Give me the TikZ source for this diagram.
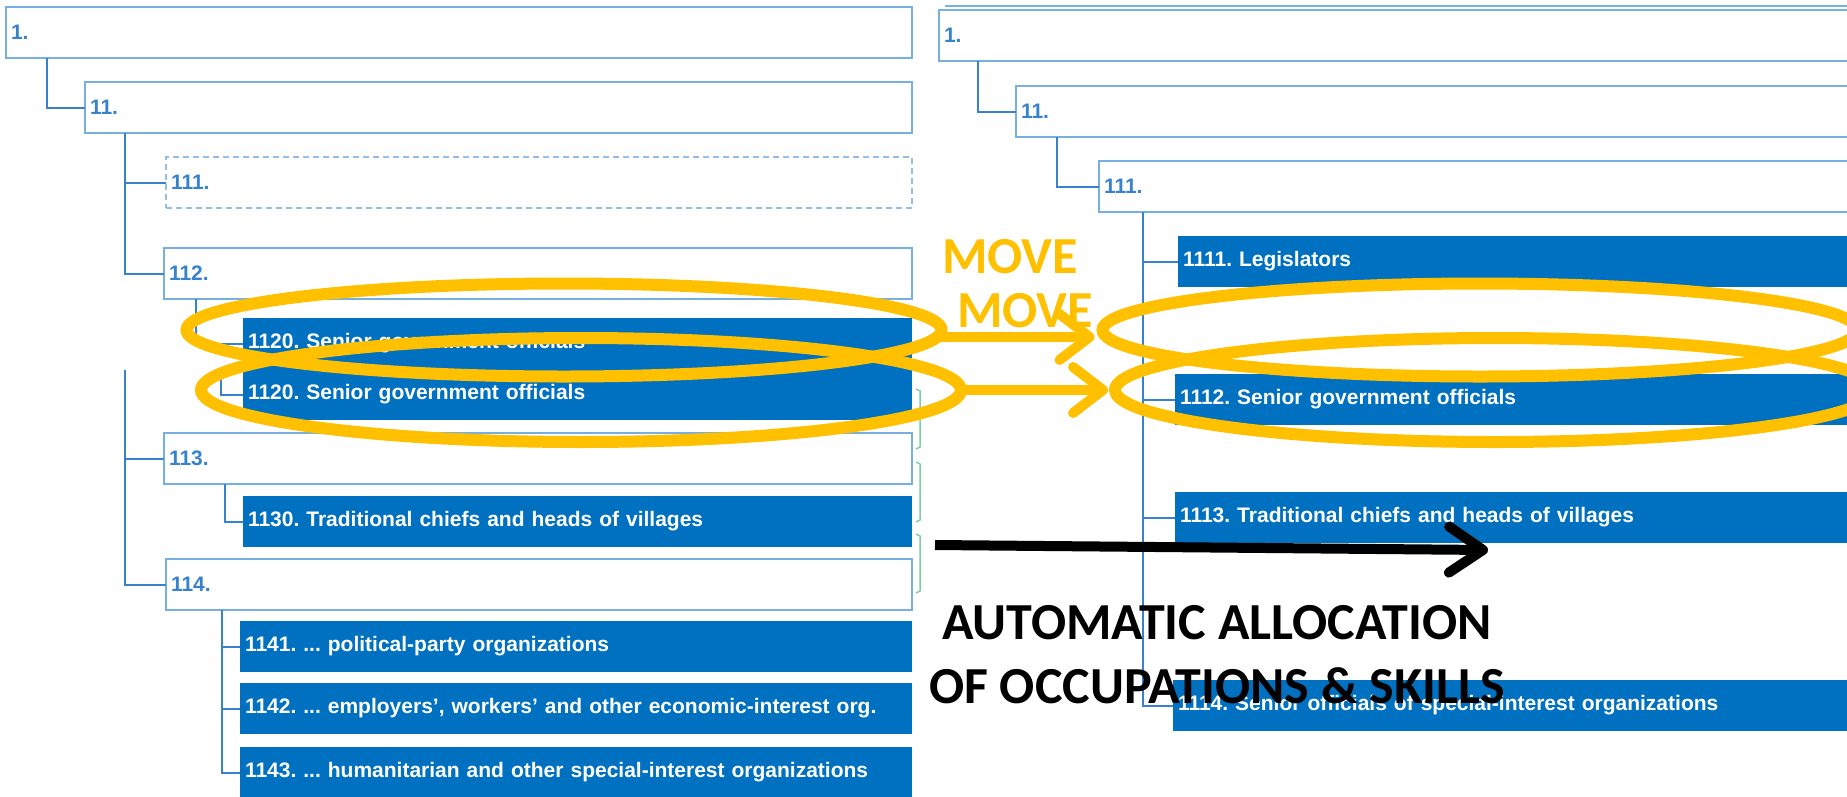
\documentclass[tikz,border=0pt]{standalone}
\usepackage{fontspec}
\setmainfont{Liberation Sans}
\newfontfamily\calib{Carlito}
\usetikzlibrary{shapes.geometric,arrows.meta,positioning}
\frenchspacing

\definecolor{iscoblue}{RGB}{0,112,192}
\definecolor{linkblue}{RGB}{55,130,205}
\definecolor{paleblue}{RGB}{120,175,225}
\definecolor{movegold}{RGB}{255,192,0}
\definecolor{brackgreen}{RGB}{120,210,160}

\begin{document}
\begin{tikzpicture}[x=1pt,y=-1pt,
    every node/.style={shape=rectangle,anchor=north west,inner sep=0pt,outer sep=0pt},
    grp/.style={draw=paleblue,line width=2.5pt,fill=white,text=linkblue,font=\fontsize{21}{24}\selectfont\bfseries,
        text width=#1,align=left,inner xsep=5pt,minimum height=51pt},
    occ/.style={fill=iscoblue,text=white,font=\fontsize{21}{24}\selectfont\bfseries,
        text width=#1,align=left,inner xsep=5pt,minimum height=51pt},
    link/.style={draw=linkblue,line width=2pt},
    ring/.style={ellipse,draw=movegold,line width=12pt,anchor=center},
    movearrow/.style={draw=movegold,line width=10pt,line cap=round,-{Straight Barb[length=30pt,width=46pt,round]}},
    autoarrow/.style={draw=black,line width=10pt,-{Straight Barb[length=34pt,width=46pt,round]}},
    movetext/.style={anchor=center,text=movegold,font=\calib\bfseries\fontsize{52}{60}\selectfont},
]
    \path[use as bounding box,fill=white] (0,0) rectangle (1847,796);
    \clip (0,0) rectangle (1847,796);

	% create the nodes
    % left tree
    \node (b1)[grp=896pt] at (6,7) {1.};
    \node (b11)[grp=817pt] at (85,82) {11.};
    \node (b111)[grp=736pt, dash pattern=on 6pt off 4pt, draw=paleblue!80] at (166,157) {111.};
    \node (b112)[grp=738pt] at (164,248) {112.};
    \node (c1120a)[occ=659pt] at (243,318) {1120. Senior government officials};
    \node (c1120b)[occ=659pt, below=0pt of c1120a] {1120. Senior government officials};
    \node (b113)[grp=738pt] at (164,433) {113.};
    \node (c1130)[occ=659pt] at (243,496) {1130. Traditional chiefs and heads of villages};
    \node (b114)[grp=736pt] at (166,559) {114.};
    \node (c1141)[occ=662pt] at (240,621) {1141. ... political-party organizations};
    \node (c1142)[occ=662pt, below=11pt of c1141] {1142. ... employers', workers' and other economic-interest org.};
    \node (c1143)[occ=662pt, below=13pt of c1142] {1143. ... humanitarian and other special-interest organizations};

    % right tree
    \node (r1)[grp=921pt] at (939,10) {1.};
    \node (r11)[grp=844pt] at (1016,86) {11.};
    \node (r111)[grp=761pt] at (1099,161) {111.};
    \node (r1111)[occ=682pt] at (1178,236) {1111. Legislators};
    \node (r1112)[occ=685pt] at (1175,374) {1112. Senior government officials};
    \node (r1113)[occ=685pt, below=67pt of r1112] {1113. Traditional chiefs and heads of villages};
    \node (r1114)[occ=687pt] at (1173,680) {1114. Senior officials of special-interest organizations};
    \draw[paleblue, line width=2pt] ([xshift=6pt,yshift=4pt]r1.north west) -- ([yshift=4pt]r1.north east);

	% connect the nodes
    \draw[link] ([xshift=41pt]b1.south west) |- (b11.west);
    \draw[link] ([xshift=40pt]b11.south west) |- (b111.west);
    \draw[link] ([xshift=40pt]b11.south west) |- (b112.west);
    \draw[link] ([xshift=32pt]b112.south west) |- (c1120a.west);
    \draw[link] ([xshift=-22pt]c1120a.south west) |- (c1120b.west);
    \coordinate (split) at (125,370);
    \draw[link] (split) |- (b113.west);
    \draw[link] (split) |- (b114.west);
    \draw[link] ([xshift=61pt]b113.south west) |- (c1130.west);
    \foreach \n in {c1141,c1142,c1143}
        \draw[link] ([xshift=56pt]b114.south west) |- (\n.west);

    \draw[link] ([xshift=39pt]r1.south west) |- (r11.west);
    \draw[link] ([xshift=41pt]r11.south west) |- (r111.west);
    \foreach \n in {r1111,r1112,r1113,r1114}
        \draw[link] ([xshift=44pt]r111.south west) |- (\n.west);

    % green brackets
    \foreach \ya/\yb in {389/449,462/522,534/593}
        \draw[brackgreen, line width=1.5pt] (916,\ya) -- (920,\ya+2) -- (920,\yb-2) -- (916,\yb);

    % the moves
    \node (elA)[ring, minimum width=755pt, minimum height=93pt] at (564,330) {};
    \node (elB)[ring, minimum width=760pt, minimum height=104pt] at (581,390) {};
    \node (elC)[ring, minimum width=755pt, minimum height=93pt] at (1480,330) {};
    \node (elD)[ring, minimum width=760pt, minimum height=104pt] at (1495,390) {};
    \draw[movearrow] ([yshift=-7pt]elA.east) -- ([xshift=-8pt,yshift=-7pt]elC.west);
    \draw[movearrow] ([xshift=5pt]elB.east) -- ([xshift=-7pt]elD.west);
    \node (move1)[movetext] at (1010,257) {MOVE};
    \node (move2)[movetext] at (1025,311) {MOVE};

    % automatic allocation
    \coordinate (autoS) at (935,545);
    \coordinate (autoE) at (1488,550);
    \draw[autoarrow] (autoS) -- (autoE);
    \node (alloc)[anchor=center, align=center, font=\calib\bfseries\fontsize{52}{64}\selectfont] at (1217,655)
        {AUTOMATIC ALLOCATION\\OF OCCUPATIONS \& SKILLS};
\end{tikzpicture}
\end{document}
